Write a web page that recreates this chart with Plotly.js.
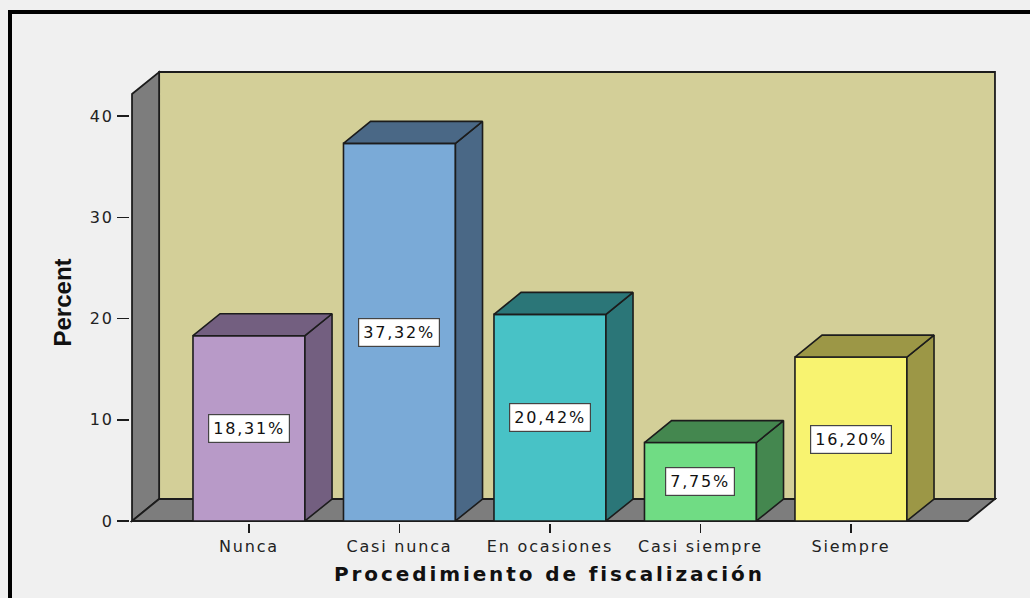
<!DOCTYPE html>
<html>
<head>
<meta charset="utf-8">
<script src="https://cdn.plot.ly/plotly-3.0.1.min.js"></script>
<style>
  html, body { margin: 0; padding: 0; background: #f0f0f0; }
  #wrap { position: relative; width: 1030px; height: 598px; overflow: hidden; }
  #chart { position: absolute; left: 0; top: 0; width: 1030px; height: 598px; }
  #frame { position: absolute; left: 8px; top: 10px; width: 1040px; height: 600px;
           border-top: 4px solid #000; border-left: 4px solid #000; pointer-events: none; }
  .js-plotly-plot .xtick text, .js-plotly-plot .ytick text { letter-spacing: 1.8px; }
</style>
</head>
<body>
<div id="wrap">
  <div id="chart"></div>
  <div id="frame"></div>
</div>
<script>
// ---- data ----
const categories = ["Nunca", "Casi nunca", "En ocasiones", "Casi siempre", "Siempre"];
const percents = [18.31, 37.32, 20.42, 7.75, 16.20];
const labels = ["18,31%", "37,32%", "20,42%", "7,75%", "16,20%"];
const yTicks = [0, 10, 20, 30, 40];
const frontColors = ["#b89ac8", "#7aaad7", "#48c2c6", "#70dc84", "#f8f370"];
const darkColors  = ["#735f80", "#4a6886", "#2b7678", "#44874f", "#9c9746"];

// ---- 3D geometry (data units) ----
const BAR_W = 0.744;
const DX = 0.18;     // depth offset along x
const DY = 2.17;     // depth offset along y
const XLO = -0.777, XHI = 4.777;  // front floor extent
const YTOP = 42.2;                // front wall top
const PADX = 0.0135, PADY = 0.2;

const EDGE = "#1c1c1c";
const WALL_GRAY = "#7d7d7d";
const BACK_WALL = "#d3cf98";

const traces = [];

// front faces as bars
traces.push({
  type: "bar",
  x: categories.map((c, i) => i),
  y: percents,
  width: BAR_W,
  marker: { color: frontColors, line: { color: EDGE, width: 1.6 } },
  hoverinfo: "skip",
  showlegend: false
});

// side and top faces
percents.forEach((v, i) => {
  const l = i - BAR_W / 2, r = i + BAR_W / 2;
  traces.push({
    type: "scatter", mode: "lines", fill: "toself",
    x: [r, r + DX, r + DX, r, r],
    y: [0, DY, v + DY, v, 0],
    fillcolor: darkColors[i], line: { color: EDGE, width: 1.6 },
    hoverinfo: "skip", showlegend: false
  });
  traces.push({
    type: "scatter", mode: "lines", fill: "toself",
    x: [l, r, r + DX, l + DX, l],
    y: [v, v, v + DY, v + DY, v],
    fillcolor: darkColors[i], line: { color: EDGE, width: 1.6 },
    hoverinfo: "skip", showlegend: false
  });
});

function path(pts) {
  return "M" + pts.map(p => p[0] + "," + p[1]).join("L") + "Z";
}

const shapes = [
  // back wall
  { type: "path", layer: "below", xref: "x", yref: "y",
    path: path([[XLO + DX, DY], [XHI + DX, DY], [XHI + DX, YTOP + DY], [XLO + DX, YTOP + DY]]),
    fillcolor: BACK_WALL, line: { color: EDGE, width: 1.8 } },
  // left wall
  { type: "path", layer: "below", xref: "x", yref: "y",
    path: path([[XLO, 0], [XLO + DX, DY], [XLO + DX, YTOP + DY], [XLO, YTOP]]),
    fillcolor: WALL_GRAY, line: { color: EDGE, width: 1.8 } },
  // floor
  { type: "path", layer: "below", xref: "x", yref: "y",
    path: path([[XLO, 0], [XHI, 0], [XHI + DX, DY], [XLO + DX, DY]]),
    fillcolor: WALL_GRAY, line: { color: EDGE, width: 1.8 } }
];

const annotations = percents.map((v, i) => ({
  x: i, y: v / 2, xref: "x", yref: "y",
  text: '<span style="letter-spacing:1.8px">' + labels[i] + '</span>',
  showarrow: false,
  font: { family: "DejaVu Sans, sans-serif", size: 16, color: "#111" },
  bgcolor: "#ffffff", bordercolor: "#444", borderwidth: 1.2, borderpad: 4
}));

// axis titles
annotations.push({
  x: (XLO + XHI) / 2, y: 0, xref: "x", yref: "y",
  yanchor: "middle", yshift: -53,
  text: '<span style="letter-spacing:2.9px">Procedimiento de fiscalización</span>',
  showarrow: false,
  font: { family: "DejaVu Sans, sans-serif", size: 20, color: "#111", weight: "bold" }
});
annotations.push({
  x: XLO, y: YTOP / 2, xref: "x", yref: "y",
  xshift: -70, yshift: 5, textangle: -90,
  text: "<b>Percent</b>",
  showarrow: false,
  font: { family: "Liberation Sans, Arial, sans-serif", size: 24, color: "#111" }
});

const layout = {
  width: 1030, height: 598,
  margin: { l: 130, r: 33, t: 70, b: 75, pad: 0 },
  paper_bgcolor: "#f0f0f0",
  plot_bgcolor: "#f0f0f0",
  showlegend: false,
  bargap: 0,
  xaxis: {
    range: [XLO - PADX, XHI + DX + PADX],
    tickmode: "array",
    tickvals: categories.map((c, i) => i),
    ticktext: categories,
    ticks: "outside", ticklen: 9, tickwidth: 1.5, tickcolor: EDGE,
    showgrid: false, zeroline: false, showline: false,
    tickfont: { family: "DejaVu Sans, sans-serif", size: 16, color: "#222" },
    fixedrange: true
  },
  yaxis: {
    range: [-PADY, YTOP + DY + PADY],
    tickmode: "array",
    tickvals: yTicks,
    ticktext: yTicks.map(String),
    ticks: "outside", ticklen: 12, tickwidth: 1.5, tickcolor: EDGE,
    showgrid: false, zeroline: false, showline: false,
    tickfont: { family: "DejaVu Sans, sans-serif", size: 16, color: "#222" },
    fixedrange: true
  },
  shapes: shapes,
  annotations: annotations
};

Plotly.newPlot("chart", traces, layout, { displayModeBar: false, staticPlot: true });
</script>
</body>
</html>
